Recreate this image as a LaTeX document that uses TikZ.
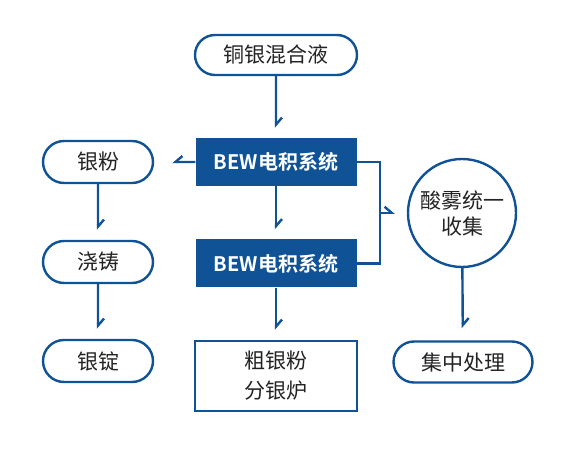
\documentclass[tikz,border=0pt]{standalone}
\usepackage{fontspec}
\setmainfont{Noto Sans CJK SC}[BoldFont={Noto Sans CJK SC Bold}]
\usetikzlibrary{arrows.meta, shapes.misc, calc, positioning}
\definecolor{bew}{RGB}{16, 82, 150}
\definecolor{txt}{RGB}{35, 35, 35}
\tikzset{
    roundnode/.style = {draw=bew, rounded rectangle, line width=2.4pt, text=txt, inner sep=0pt,
      minimum width=110pt, minimum height=42pt, node distance=0pt, font=\fontsize{21}{30}\selectfont},
    bewnode/.style = {fill=bew, rectangle, text=white, inner sep=0pt,
      minimum width=161pt, minimum height=48pt, node distance=0pt, font=\fontsize{20}{24}\selectfont\bfseries},
    boxnode/.style = {draw=bew, rectangle, line width=2.4pt, text=txt, inner sep=0pt,
      minimum width=162pt, minimum height=70pt, node distance=0pt, font=\fontsize{21}{30}\selectfont},
    circlenode/.style = {draw=bew, circle, line width=2.4pt, text=txt, inner sep=0pt,
      minimum size=108pt, node distance=0pt, font=\fontsize{21}{26}\selectfont},
    link/.style = {draw=bew, line width=2.4pt},
    connect/.style = {link, -{Straight Barb[left, length=7pt, width=12pt]}, shorten >=10pt},
    every text node part/.style={align=center}
}

\begin{document}
\begin{tikzpicture}
\useasboundingbox (0,0) rectangle (573pt,458pt);
\node [roundnode, minimum width=162pt, minimum height=40pt, name=mix] at (276pt,403pt) {铜银混合液};
\node [bewnode, name=bew1, below of=mix, yshift=-107pt] {BEW电积系统};
\node [bewnode, name=bew2, below of=bew1, yshift=-101.5pt] {BEW电积系统};
\node [boxnode, name=crude, below of=bew2, yshift=-112.5pt] {粗银粉\\分银炉};

\node [roundnode, name=powder, left of=bew1, xshift=-178pt] {银粉};
\node [roundnode, name=cast, below of=powder, yshift=-100pt] {浇铸};
\node [roundnode, name=ingot, below of=cast, yshift=-99pt] {银锭};

\node [circlenode, name=mist, right of=bew1, xshift=186pt, yshift=-51pt] {酸雾统一\\收集};
\node [roundnode, minimum width=139pt, minimum height=41pt, name=treat, below of=mist, xshift=1pt, yshift=-149pt] {集中处理};

\draw [connect] (mix) -- (bew1);
\draw [connect] (bew1) -- (bew2);
\draw [connect] (bew2) -- (crude);
\draw [connect, -{Straight Barb[right, length=7pt, width=12pt]}, shorten >=18pt] (bew1) -- (powder);
\draw [connect] (powder) -- (cast);
\draw [connect] (cast) -- (ingot);

\draw [link] (bew1.east) -- ++(23pt,0) |- (bew2.east);
\coordinate (join) at ($(bew1.east)!0.5!(bew2.east) + (23pt,0)$);
\draw [connect, shorten >=12pt] (join) -- (join -| mist.west);
\draw [connect, shorten >=12pt] (mist) -- (treat);
\end{tikzpicture}
\end{document}
